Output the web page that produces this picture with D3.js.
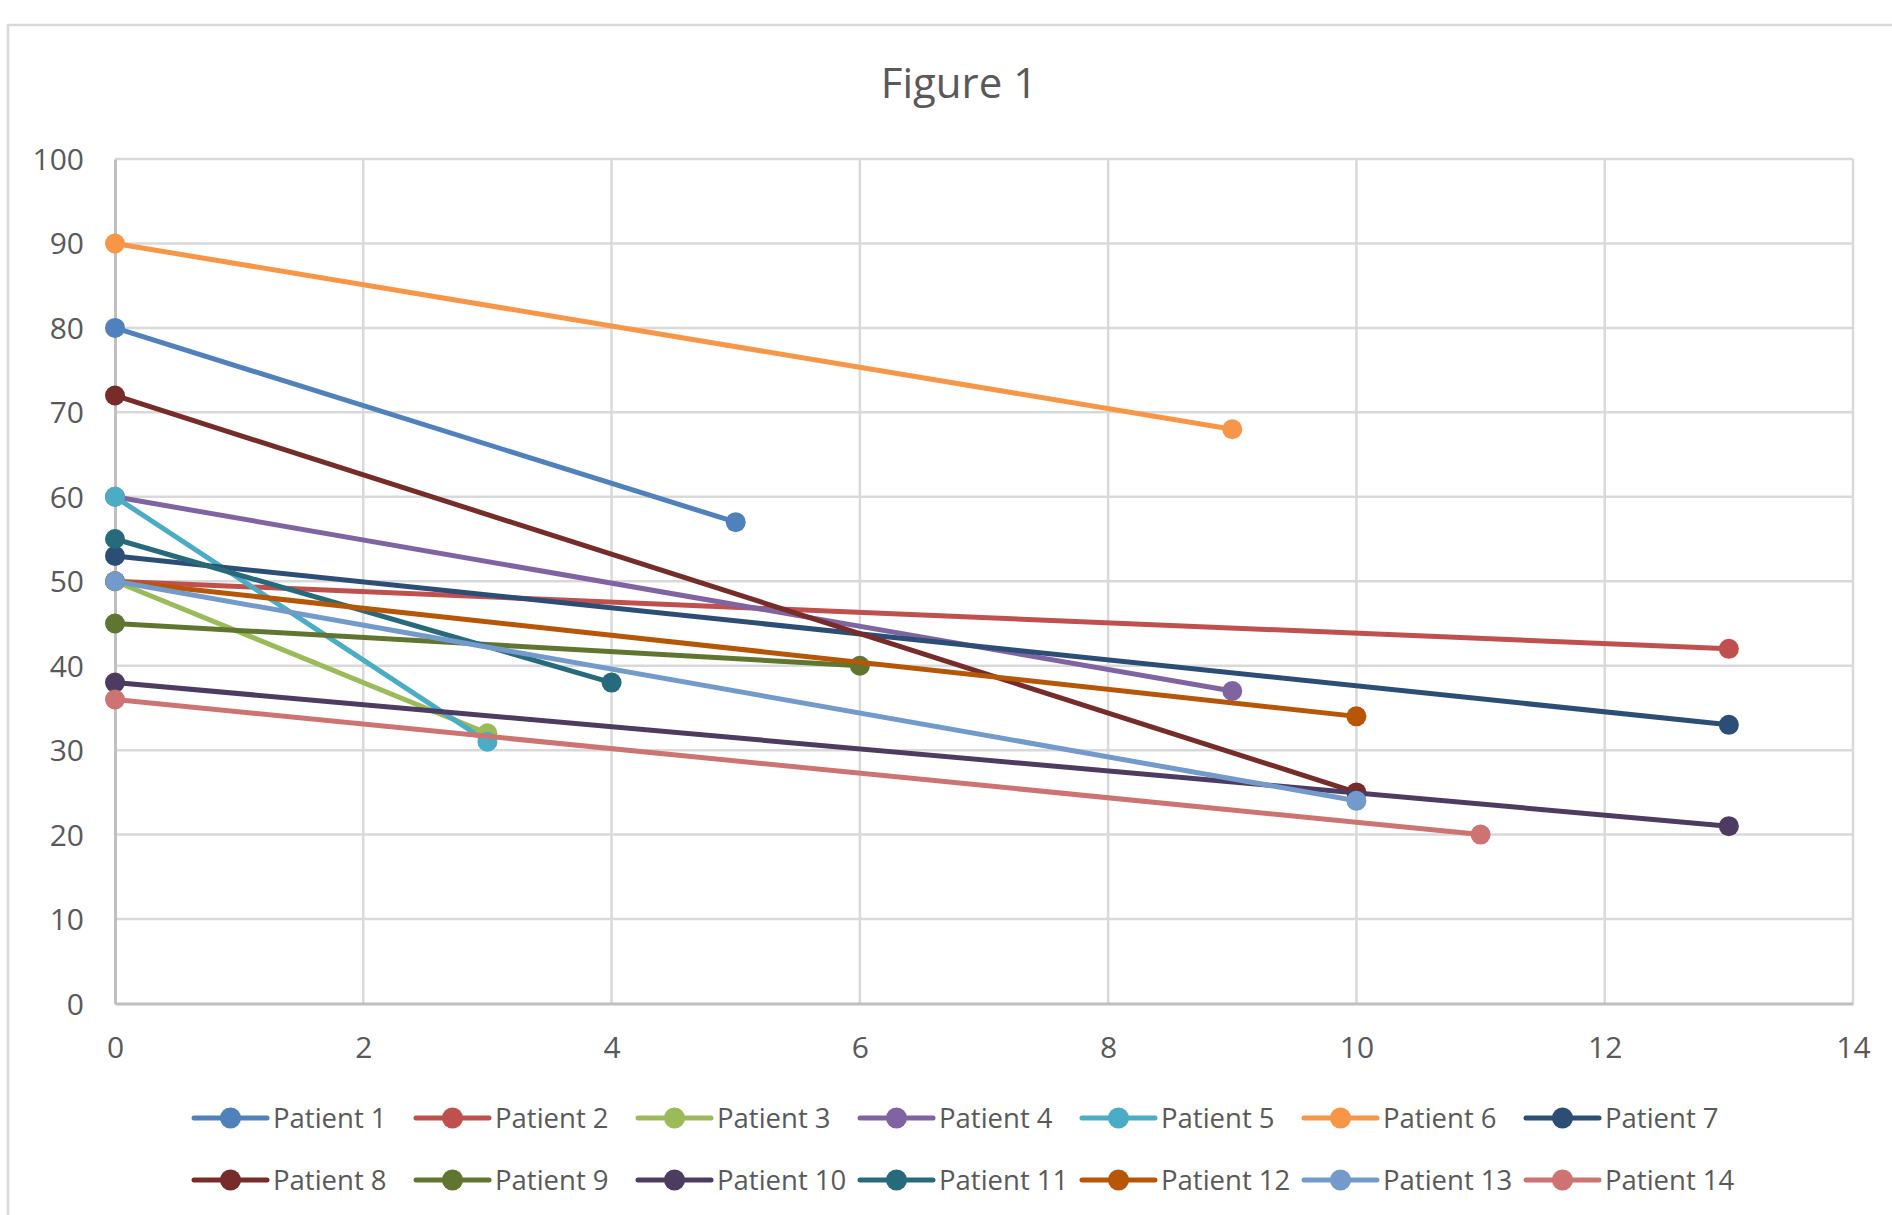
<!DOCTYPE html>
<html>
<head>
<meta charset="utf-8">
<script src="https://cdn.jsdelivr.net/npm/d3@7"></script>
<style>
  html, body { margin: 0; padding: 0; background: #fff; }
  svg { display: block; font-family: "Open Sans", "DejaVu Sans", sans-serif; }
</style>
</head>
<body>
<svg id="chart" width="1892" height="1215"></svg>
<script>
// ---- Data ----
const seriesNames = ["Patient 1","Patient 2","Patient 3","Patient 4","Patient 5","Patient 6","Patient 7",
                     "Patient 8","Patient 9","Patient 10","Patient 11","Patient 12","Patient 13","Patient 14"];
const startX = [0,0,0,0,0,0,0,0,0,0,0,0,0,0];
const startY = [80,50,50,60,60,90,53,72,45,38,55,50,50,36];
const endX   = [5,13,3,9,3,9,13,10,6,13,4,10,10,11];
const endY   = [57,42,32,37,31,68,33,25,40,21,38,34,24,20];
const colors = ["#4F81BD","#C0504D","#9BBB59","#8064A2","#4BACC6","#F79646","#2C4D75",
                "#772C2A","#5F7530","#4D3B62","#276A7C","#B65708","#729ACA","#CD7371"];
const xTicks = [0,2,4,6,8,10,12,14];
const yTicks = [0,10,20,30,40,50,60,70,80,90,100];
const title = "Figure 1";

// ---- Layout ----
const svg = d3.select("#chart");
const plot = { left: 115, right: 1853, top: 159, bottom: 1003.5 };
const x = d3.scaleLinear().domain([0, 14]).range([plot.left, plot.right]);
const y = d3.scaleLinear().domain([0, 100]).range([plot.bottom, plot.top]);
const textColor = "#595959";

// Outer chart border (cropped at right and bottom)
svg.append("path")
  .attr("d", "M8,1230 L8,25 L1900,25")
  .attr("fill", "none").attr("stroke", "#D9D9D9").attr("stroke-width", 2.5);

// Title
svg.append("text")
  .attr("x", 959).attr("y", 98)
  .attr("text-anchor", "middle")
  .attr("font-size", 42).attr("fill", textColor)
  .text(title);

// Gridlines
const grid = svg.append("g");
grid.selectAll("line.h").data(yTicks.filter(d => d > 0)).join("line")
  .attr("x1", plot.left).attr("x2", plot.right)
  .attr("y1", d => y(d)).attr("y2", d => y(d))
  .attr("stroke", "#D9D9D9").attr("stroke-width", 2.5);
grid.selectAll("line.v").data(xTicks.filter(d => d > 0)).join("line")
  .attr("x1", d => x(d)).attr("x2", d => x(d))
  .attr("y1", plot.top).attr("y2", plot.bottom)
  .attr("stroke", "#D9D9D9").attr("stroke-width", 2.5);

// Axes
const xAxis = d3.axisBottom(x).tickValues(xTicks).tickSize(0).tickPadding(30);
const yAxis = d3.axisLeft(y).tickValues(yTicks).tickSize(0).tickPadding(31);
const gx = svg.append("g").attr("transform", `translate(0,${plot.bottom})`).call(xAxis);
const gy = svg.append("g").attr("transform", `translate(${plot.left},0)`).call(yAxis);
[gx, gy].forEach(g => {
  g.select(".domain").attr("stroke", "#BFBFBF").attr("stroke-width", 3);
  g.selectAll("text").attr("font-size", 30).attr("fill", textColor)
    .attr("font-family", "'Open Sans', sans-serif");
});
gy.selectAll("text").attr("dy", "0.35em");
gx.selectAll("text").attr("dy", "0.35em").attr("transform", "translate(0,14)");

// Series
const series = seriesNames.map((name, i) => ({
  name, color: colors[i],
  pts: [[startX[i], startY[i]], [endX[i], endY[i]]]
}));
const line = d3.line().x(d => x(d[0])).y(d => y(d[1]));
const gs = svg.append("g");
series.forEach(s => {
  const g = gs.append("g");
  g.append("path").attr("d", line(s.pts))
    .attr("fill", "none").attr("stroke", s.color).attr("stroke-width", 5)
    .attr("stroke-linecap", "round");
  g.selectAll("circle").data(s.pts).join("circle")
    .attr("cx", d => x(d[0])).attr("cy", d => y(d[1])).attr("r", 10)
    .attr("fill", s.color);
});

// Legend
const legend = svg.append("g");
const legX0 = 194, legDX = 222, rowY = [1118, 1180];
series.forEach((s, i) => {
  const row = Math.floor(i / 7), col = i % 7;
  const lx = legX0 + col * legDX, ly = rowY[row];
  const g = legend.append("g").attr("transform", `translate(${lx},${ly})`);
  g.append("line").attr("x1", 0).attr("x2", 73).attr("y1", 0).attr("y2", 0)
    .attr("stroke", s.color).attr("stroke-width", 5).attr("stroke-linecap", "round");
  g.append("circle").attr("cx", 36.5).attr("cy", 0).attr("r", 10.5).attr("fill", s.color);
  g.append("text").attr("x", 79).attr("y", 0).attr("dy", "0.36em")
    .attr("font-size", 27.5).attr("fill", textColor).text(s.name);
});
</script>
</body>
</html>
